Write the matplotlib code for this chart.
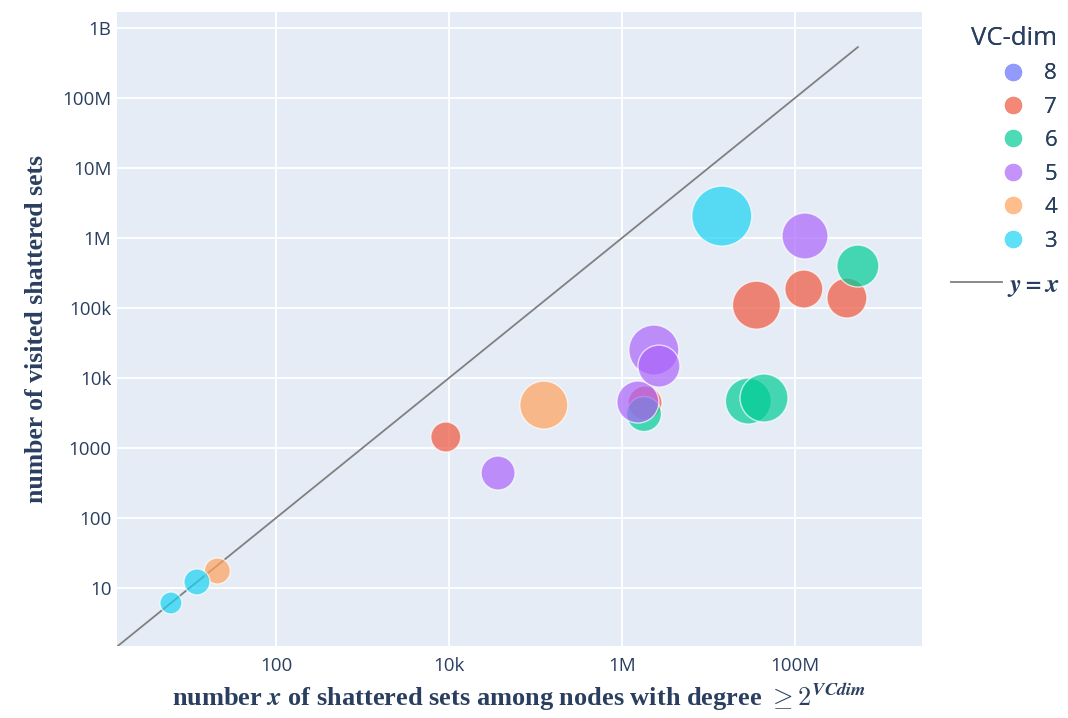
import numpy as np
import matplotlib
matplotlib.use("Agg")
import matplotlib.pyplot as plt
from matplotlib.colors import to_rgb
from matplotlib.ticker import FixedLocator, FixedFormatter
from matplotlib.lines import Line2D

plt.rcParams['font.family'] = ['Open Sans', 'DejaVu Sans']
plt.rcParams['mathtext.fontset'] = 'cm'

# VC-dim groups, in plotly trace order
vc_dims = [8, 7, 6, 5, 4, 3]
colors = {8: '#636efa', 7: '#EF553B', 6: '#00cc96', 5: '#ab63fa', 4: '#FFA15A', 3: '#19d3f3'}

# x: shattered sets among nodes with degree >= 2^VCdim, y: visited shattered sets, bubble: marker scale
x_vals = {
    8: [],
    7: [9.2e3, 1.85e6, 3.6e7, 1.27e8, 4.0e8],
    6: [1.8e6, 2.9e7, 4.4e7, 5.35e8],
    5: [3.7e4, 1.53e6, 2.34e6, 2.68e6, 1.31e8],
    4: [21, 1.25e5],
    3: [6.1, 12.2, 1.43e7],
}
y_vals = {
    8: [],
    7: [1436, 4400, 1.1e5, 1.87e5, 1.39e5],
    6: [3060, 4690, 5180, 3.98e5],
    5: [439, 4540, 2.51e4, 1.48e4, 1.07e6],
    4: [17.5, 4110],
    3: [6.1, 12.2, 2.06e6],
}
bubble = {
    8: [],
    7: [30, 34, 48, 38, 40],
    6: [35, 46, 48, 42],
    5: [34, 42, 50, 42, 46],
    4: [26, 48],
    3: [22, 26, 60],
}

y_ticks = [10, 100, 1000, 1e4, 1e5, 1e6, 1e7, 1e8, 1e9]
y_labels = ['10', '100', '1000', '10k', '100k', '1M', '10M', '100M', '1B']
x_ticks = [100, 1e4, 1e6, 1e8]
x_labels = ['100', '10k', '1M', '100M']


def faded(c, a=0.7):
    r, g, b = to_rgb(c)
    return (1 - a + a * r, 1 - a + a * g, 1 - a + a * b)


fig = plt.figure(figsize=(10.68, 7.18), dpi=100)
ax = fig.add_axes([117 / 1068, 1 - 646 / 718, (922 - 117) / 1068, (646 - 12) / 718])
ax.set_facecolor('#E5ECF6')
ax.set_xscale('log')
ax.set_yscale('log')
ax.set_xlim(10 ** 0.162, 10 ** 9.47)
ax.set_ylim(10 ** 0.171, 10 ** 9.23)

# y = x reference line
line_x = np.array([1.0, max(max(v) for v in x_vals.values() if v)])
ax.plot(line_x, line_x, color='grey', lw=1.3, zorder=2)

px2pt = 72 / 100
for d in vc_dims:
    if not x_vals[d]:
        continue
    s = [(b * px2pt) ** 2 for b in bubble[d]]
    ax.scatter(x_vals[d], y_vals[d], s=s, color=colors[d], alpha=0.7,
               edgecolors='white', linewidths=1.0, zorder=3)

ax.xaxis.set_major_locator(FixedLocator(x_ticks))
ax.xaxis.set_major_formatter(FixedFormatter(x_labels))
ax.yaxis.set_major_locator(FixedLocator(y_ticks))
ax.yaxis.set_major_formatter(FixedFormatter(y_labels))
ax.xaxis.set_minor_locator(FixedLocator([]))
ax.yaxis.set_minor_locator(FixedLocator([]))
ax.tick_params(length=0, labelsize=13.5, labelcolor='#2a3f5f')
ax.tick_params(axis='x', pad=8)
ax.tick_params(axis='y', pad=4)
ax.grid(True, color='white', lw=1.3)
ax.set_axisbelow(True)
for sp in ax.spines.values():
    sp.set_visible(False)

ax.set_xlabel(r'number $\mathbfit{x}$ of shattered sets among nodes with degree $\mathbf{\geq 2}^{\mathbfit{VCdim}}$',
              family='Liberation Serif', fontweight='bold', fontsize=19, color='#2a3f5f', labelpad=4)
ax.set_ylabel('number of visited shattered sets',
              family='Liberation Serif', fontweight='bold', fontsize=18.5, color='#2a3f5f', labelpad=10)

handles = [Line2D([], [], marker='o', ls='', markersize=12.5, color=faded(colors[d]),
                  markeredgewidth=0, label=str(d)) for d in vc_dims]
leg = fig.legend(handles=handles, title='VC-dim', loc='upper left',
                 bbox_to_anchor=(962 / 1068, 1 - 17 / 718), frameon=False,
                 fontsize=16, title_fontsize=18.5, labelcolor='#2a3f5f',
                 handletextpad=0.4, labelspacing=0.56, borderaxespad=0)
leg.get_title().set_color('#2a3f5f')
leg._legend_box.align = 'right'
fig.add_artist(leg)

line_handle = [Line2D([], [], color='grey', lw=1.3, label=r'$\mathbfit{y = x}$')]
fig.legend(handles=line_handle, loc='upper left', bbox_to_anchor=(940 / 1068, 1 - 262 / 718),
           frameon=False, fontsize=19, labelcolor='#2a3f5f', handlelength=1.95,
           handletextpad=0.2, borderaxespad=0)

fig.savefig('out.png', dpi=100)
